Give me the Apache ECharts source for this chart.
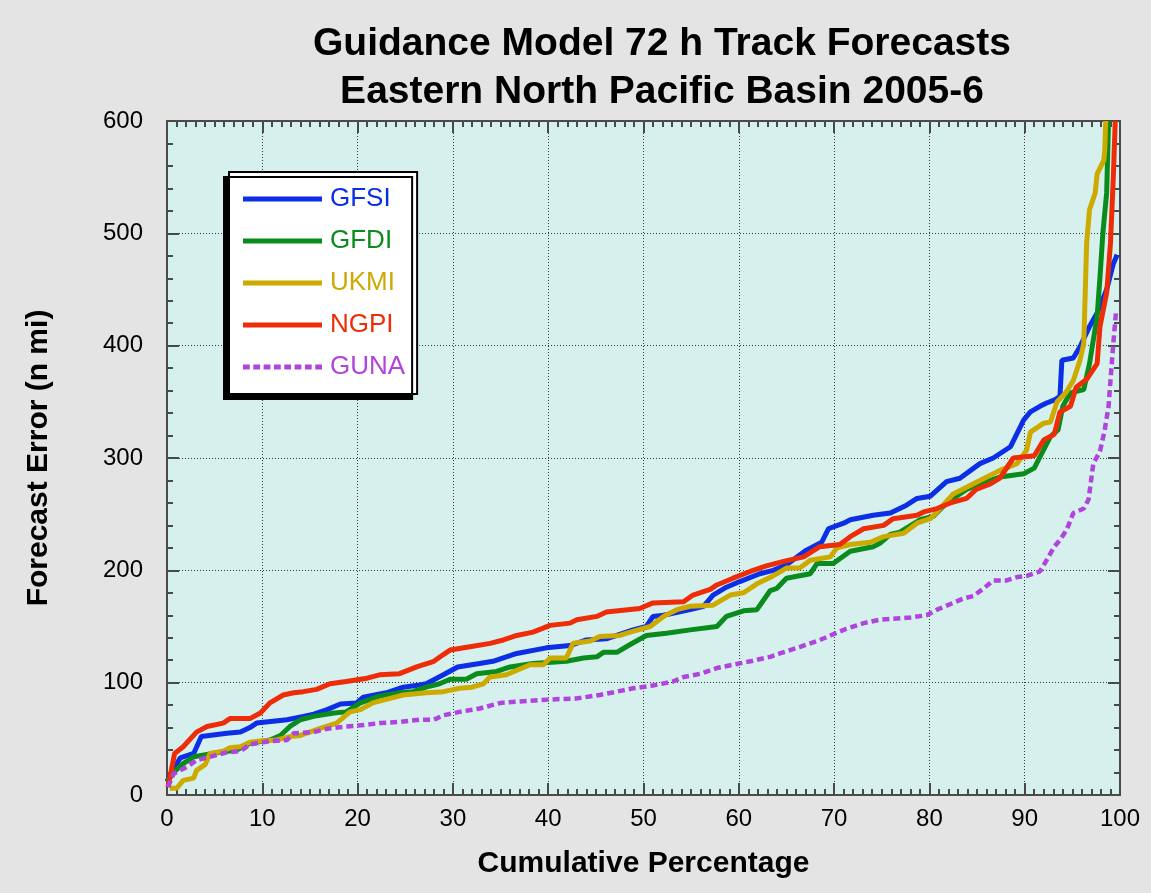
<!DOCTYPE html>
<html>
<head>
<meta charset="utf-8">
<script src="https://cdn.jsdelivr.net/npm/echarts@6/dist/echarts.min.js"></script>
<style>
  html, body { margin: 0; padding: 0; background: #e4e4e4; }
  #chart { width: 1151px; height: 893px; }
</style>
</head>
<body>
<div id="chart"></div>
<script>
// [cumulative %, forecast error (n mi)]
const gfsi = [[0,12],[0.6,22],[1.4,33],[2.8,37],[3.6,52],[6.3,55],[7.7,56],[8.7,60],[9.4,64],[12.6,67],[14.3,70],[15.4,72],[16.8,76],[18.2,81],[19.9,82],[20.6,87],[23,91],[24.8,96],[26.5,98],[27.2,99],[29,107],[30.5,114],[32.8,117],[34.2,119],[36.7,126],[39.8,131],[42.3,133],[44,138],[46.1,139],[48.9,147],[50.3,150],[51,159],[52.1,160],[54.9,165],[56.3,168],[57.3,178],[58.7,185],[60.1,190],[62.2,197],[63.6,200],[65,205],[67.1,218],[68.7,225],[69.4,237],[71,242],[71.7,245],[74.1,249],[75.9,251],[77.6,258],[78.7,264],[80.1,266],[81.8,279],[83.2,282],[85.3,295],[86.7,300],[88.5,310],[89.2,322],[89.9,334],[90.6,341],[91.6,346],[92.3,349],[93.2,352],[93.7,355],[93.9,387],[95.1,389],[95.8,399],[96.8,417],[97.6,429],[98.6,450],[99.3,473],[99.7,481]];
const gfdi = [[0,12],[0.8,21],[1.7,28],[2.8,34],[4.2,36],[5.6,38],[7.3,40],[8.7,46],[10.8,49],[11.9,53],[12.9,61],[14,67],[15.4,70],[17.5,73],[18.8,74],[20.3,82],[22.3,88],[24.4,91],[25.8,92],[27.2,96],[28.6,99],[29.7,103],[31.4,103],[32.5,108],[34.6,110],[36,114],[38.4,117],[41.9,119],[43.7,122],[45.1,123],[45.8,127],[47.2,127],[48.6,134],[50.3,142],[52.4,144],[54.9,147],[57.7,150],[58.7,159],[60.5,164],[61.9,165],[63.3,182],[64,184],[65,193],[67.5,197],[68.2,206],[69.9,206],[71.7,217],[74.1,221],[74.8,224],[75.9,232],[76.9,234],[79,245],[80.4,248],[81.8,260],[83.9,272],[85.3,277],[87.4,283],[89.9,286],[91,291],[91.6,301],[92.7,319],[93.5,325],[94,346],[94.8,358],[96.2,361],[96.8,384],[97.6,426],[97.9,461],[98.2,500],[98.6,536],[98.8,600]];
const ukmi = [[0.3,6],[1,6],[1.7,13],[2.8,15],[3.1,22],[4,27],[4.5,37],[5.9,39],[6.6,42],[7.7,43],[8.7,47],[9.8,48],[11.5,49],[12.9,52],[14,53],[16,59],[17.8,64],[19.2,74],[20.3,76],[21.6,82],[23.4,86],[24.8,89],[27.2,91],[29,92],[30.7,95],[32,96],[33.2,99],[33.9,105],[35.6,107],[38.1,116],[39.5,116],[40.2,122],[41.9,122],[42.6,135],[44.4,137],[45.4,141],[47.5,142],[48.6,145],[50.7,150],[52.1,159],[53.5,165],[54.9,168],[57.3,169],[59.1,178],[60.5,180],[61.9,188],[63.6,195],[65,202],[66.4,202],[67.5,209],[69.6,212],[70.3,220],[71.7,223],[73.8,225],[75.2,230],[77.3,233],[78.7,242],[80.1,246],[80.8,252],[82.5,268],[85.3,280],[87.4,289],[89.2,295],[90.2,307],[90.6,323],[92,331],[92.7,332],[93.4,350],[94.3,358],[95.1,369],[95.8,387],[96.2,402],[96.3,432],[96.5,491],[96.8,521],[97.4,536],[97.6,553],[98.3,565],[98.4,574],[98.5,600]];
const ngpi = [[0.1,7],[0.8,37],[1.7,43],[3.1,56],[4.2,61],[5.9,64],[6.6,68],[8.7,68],[9.8,73],[10.8,82],[12.2,89],[13.3,91],[14.3,92],[15.7,94],[17.1,99],[18.8,101],[21,104],[22.3,107],[24.4,108],[26.2,114],[28,119],[29,125],[29.7,129],[31.8,132],[33.9,135],[35.3,138],[36.7,142],[38.4,145],[40.2,151],[42.3,153],[43,156],[45.1,159],[46.1,163],[49.6,166],[51,171],[54.2,172],[55.2,178],[57,183],[57.7,187],[59.4,193],[61.2,199],[62.9,204],[64.7,208],[66.8,212],[68.5,221],[70.6,223],[71.7,230],[73.1,237],[75.2,240],[76.2,246],[78.7,249],[79.4,252],[80.8,255],[82.2,260],[83.9,264],[84.9,272],[86.4,277],[87.4,282],[88.8,300],[91,302],[92,316],[93.1,321],[93.7,341],[94.8,346],[95.4,363],[96.5,370],[97.6,384],[97.9,417],[98.6,447],[99,491],[99.3,550],[99.5,600]];
const guna = [[0.1,7],[0.7,19],[2.1,25],[3.1,31],[4.5,34],[6.3,38],[7.7,39],[8.7,45],[10.8,48],[12.6,49],[13.3,55],[15.4,56],[16.8,59],[18.8,61],[20.3,62],[22.3,64],[24.4,65],[26.5,67],[28,67],[29,71],[30.7,74],[32.8,77],[35,82],[40.2,85],[43,86],[45.4,89],[47.2,92],[48.9,95],[50.7,97],[53.1,101],[54.2,105],[56,108],[57.7,113],[59.4,116],[61.2,119],[63.3,123],[64.3,126],[66.5,132],[68.5,138],[69.6,142],[71.3,148],[73.1,153],[74.8,156],[78,158],[79.7,160],[80.8,165],[82.5,171],[83.6,175],[84.6,177],[85.7,184],[86.7,191],[88.1,191],[89.2,194],[90.2,195],[91.6,199],[92.3,209],[93.1,221],[93.7,227],[94.4,236],[95.1,251],[96.2,255],[96.7,263],[97.2,295],[97.9,306],[98.4,325],[98.8,346],[99,369],[99.3,402],[99.6,432]];

const modelNames = ['GFSI', 'GFDI', 'UKMI', 'NGPI', 'GUNA'];
const modelColors = ['#0b2ee6', '#0a8c1c', '#ccaa00', '#ee2c08', '#b044dd'];
const modelData = [gfsi, gfdi, ukmi, ngpi, guna];

const font = "'Liberation Sans', Arial, sans-serif";
const axisColor = '#4a4a4a';

// legend keys: a plain bar, and a dashed bar for GUNA
const solidKey = 'path://M0,0h79v5h-79z';
let dashedKey = 'path://';
for (let x = 0; x < 79; x += 10.4) {
  dashedKey += `M${x.toFixed(1)},0h6.8v5h-6.8z `;
}

const chart = echarts.init(document.getElementById('chart'));

const tickStyle = { color: axisColor, width: 2 };
const makeAxis = (extra, splitNumber, withLabels) => Object.assign({
  type: 'value',
  axisLine: { show: true, onZero: false, lineStyle: { color: axisColor, width: 2 } },
  axisTick: { show: true, inside: true, length: 12, lineStyle: tickStyle },
  minorTick: { show: true, splitNumber: splitNumber, length: 6, lineStyle: tickStyle },
  axisLabel: withLabels
    ? { fontFamily: font, fontSize: 24, color: '#000' }
    : { show: false },
  splitLine: withLabels
    ? { show: true, lineStyle: { color: '#3a3a3a', width: 1, type: [1, 2] } }
    : { show: false },
}, extra);

const option = {
  backgroundColor: '#e4e4e4',
  animation: false,
  title: {
    text: 'Guidance Model 72 h Track Forecasts\nEastern North Pacific Basin 2005-6',
    left: 657,
    top: 15,
    textAlign: 'center',
    textStyle: { fontFamily: font, fontSize: 39, fontWeight: 'bold', color: '#000', lineHeight: 48 },
  },
  grid: {
    left: 167, right: 31, top: 121, bottom: 98,
    show: true, backgroundColor: '#d6f0ee', borderWidth: 0,
  },
  legend: {
    orient: 'vertical',
    left: 229, top: 172,
    padding: [14, 12, 14, 14],
    itemWidth: 79, itemHeight: 5, itemGap: 16,
    backgroundColor: '#fff',
    borderColor: '#000', borderWidth: 2,
    shadowColor: '#000', shadowBlur: 0, shadowOffsetX: -5, shadowOffsetY: 5,
    textStyle: { fontFamily: font, fontSize: 26, padding: [0, 0, 0, 3] },
    data: modelNames.map((n, i) => ({
      name: n,
      icon: i === 4 ? dashedKey : solidKey,
      itemStyle: { color: modelColors[i] },
      textStyle: { color: modelColors[i] },
    })),
  },
  xAxis: [
    makeAxis({
      min: 0, max: 100, interval: 10, position: 'bottom',
      name: 'Cumulative Percentage', nameLocation: 'middle', nameGap: 54,
      nameTextStyle: { fontFamily: font, fontSize: 30, fontWeight: 'bold', color: '#000' },
    }, 10, true),
    makeAxis({ min: 0, max: 100, interval: 10, position: 'top' }, 10, false),
  ],
  yAxis: [
    makeAxis({
      min: 0, max: 600, interval: 100, position: 'left',
      name: 'Forecast Error (n mi)', nameLocation: 'middle', nameGap: 113,
      nameTextStyle: { fontFamily: font, fontSize: 30, fontWeight: 'bold', color: '#000' },
    }, 5, true),
    makeAxis({ min: 0, max: 600, interval: 100, position: 'right' }, 5, false),
  ],
  series: modelNames.map((n, i) => ({
    name: n,
    type: 'line',
    data: modelData[i],
    symbol: 'none',
    z: i === 4 ? 5 : 3,
    lineStyle: {
      color: modelColors[i],
      width: i === 4 ? 4.5 : 5,
      type: i === 4 ? [7, 4] : 'solid',
    },
    itemStyle: { color: modelColors[i] },
  })),
};

option.xAxis[0].axisLabel.margin = 12;
option.yAxis[0].axisLabel.margin = 24;

chart.setOption(option);
</script>
</body>
</html>
